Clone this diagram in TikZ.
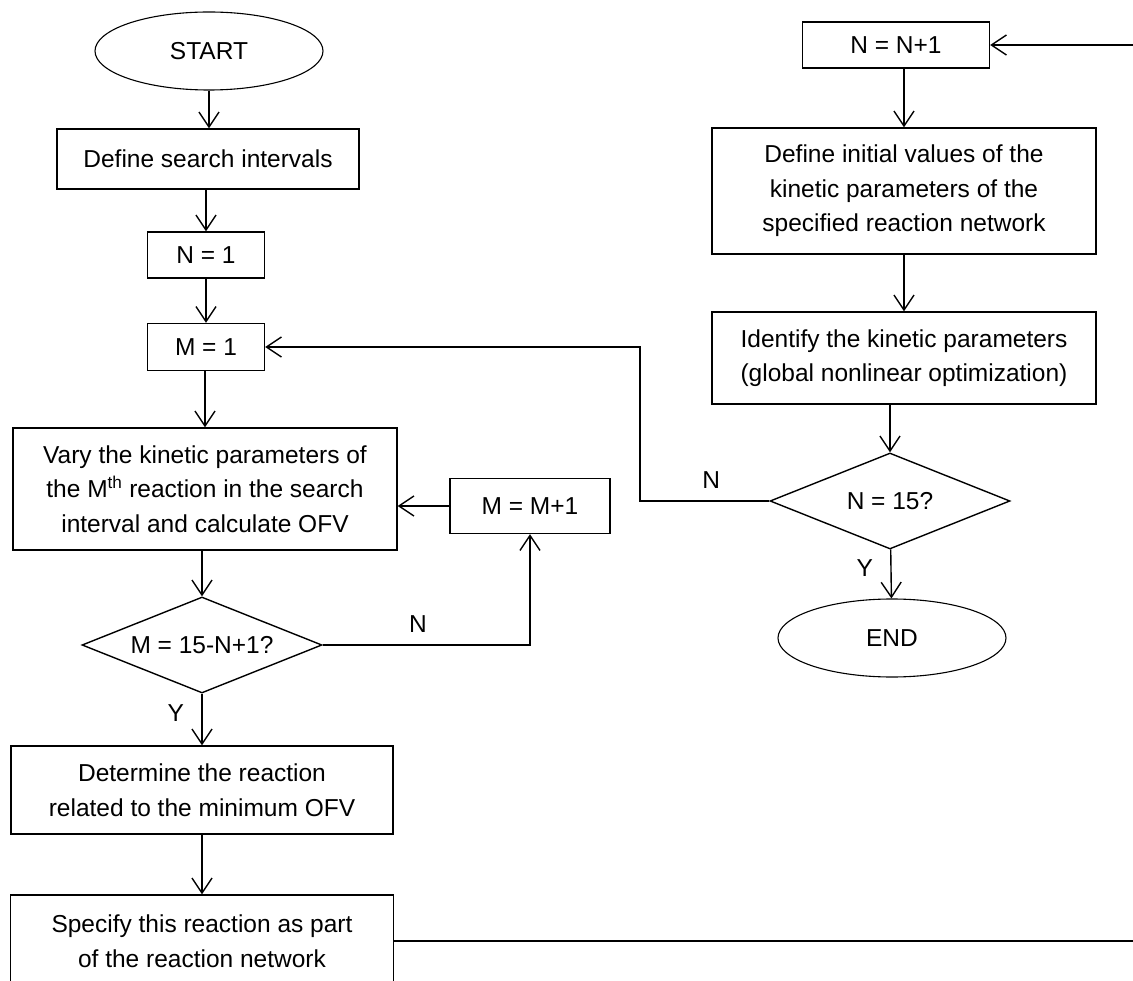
\documentclass[tikz,border=0pt]{standalone}
\usepackage{fontspec}
\setmainfont{Liberation Sans}
\usetikzlibrary{shapes.geometric,arrows.meta}
\begin{document}
\begin{tikzpicture}[x=1pt,y=-1pt,line width=1.4pt,
    font=\fontsize{24.5}{34.5}\selectfont,
    box/.style={draw,rectangle,align=center,inner sep=0pt},
    term/.style={draw,ellipse,line width=1.1pt,minimum width=228pt,minimum height=78pt,inner sep=0pt},
    test/.style={draw,diamond,aspect=2.5,minimum width=240pt,minimum height=96pt,inner sep=0pt},
    arr/.style={-{Straight Barb[length=15pt,width=20pt,line width=1.4pt]}}]
  \useasboundingbox (0,0) rectangle (1133,981);

  % left column
  \node[term] (start) at (209,51) {START};
  \node[box,minimum width=302pt,minimum height=60pt] (defint) at (208,159) {Define search intervals};
  \node[box,minimum width=117pt,minimum height=46pt] (nset) at (206,255) {N = 1};
  \node[box,minimum width=117pt,minimum height=47pt] (mset) at (206,347) {M = 1};
  \node[box,minimum width=384pt,minimum height=122pt] (vary) at (205,489) {Vary the kinetic parameters of\\the M\textsuperscript{th} reaction in the search\\interval and calculate OFV};
  \node[box,minimum width=160pt,minimum height=55pt] (minc) at (530,506) {M = M+1};
  \node[test] (mchk) at (202,645) {M = 15-N+1?};
  \node[box,minimum width=382pt,minimum height=88pt] (determ) at (202,790) {Determine the reaction\\related to the minimum OFV};
  \node[box,minimum width=383pt,minimum height=92pt] (spec) at (202,941) {Specify this reaction as part\\of the reaction network};

  % right column
  \node[box,minimum width=187pt,minimum height=46pt] (ninc) at (896,45) {N = N+1};
  \node[box,minimum width=384pt,minimum height=126pt] (initv) at (904,191) {Define initial values of the\\kinetic parameters of the\\specified reaction network};
  \node[box,minimum width=384pt,minimum height=92pt] (ident) at (904,358) {Identify the kinetic parameters\\(global nonlinear optimization)};
  \node[test] (nchk) at (890,501) {N = 15?};
  \node[term] (fin) at (892,638) {END};

  \coordinate (rgt) at (1150,941);
  \coordinate (back) at (640,501);

  \draw[arr] (start) -- (start |- defint.north);
  \draw[arr] (defint.south -| nset) -- (nset);
  \draw[arr] (nset) -- (mset);
  \draw[arr] (mset.south -| vary) -- (vary.north);
  \draw[arr] (vary.south -| mchk) -- (mchk.north);
  \draw[arr] (mchk) -- (determ) node[pos=0.38,left=14pt] {Y};
  \draw[arr] (determ) -- (spec);
  \draw[arr] (mchk.east) -- (minc.south |- mchk.east) node[pos=0.46,above=8pt] {N} -- (minc.south);
  \draw[arr] (minc.west) -- (minc.west -| vary.east);

  \draw (spec.east) -- (rgt);
  \draw[arr] (rgt) |- (ninc.east);
  \draw[arr] (ninc.south -| initv.north) -- (initv.north);
  \draw[arr] (initv.south -| ident.north) -- (ident.north);
  \draw[arr] (ident.south -| nchk.north) -- (nchk.north);
  \draw[arr] (nchk) -- (fin) node[pos=0.38,left=14pt] {Y};
  \draw[arr] (nchk.west) -- (back) node[pos=0.45,above=8pt] {N} |- (mset.east);
\end{tikzpicture}
\end{document}
